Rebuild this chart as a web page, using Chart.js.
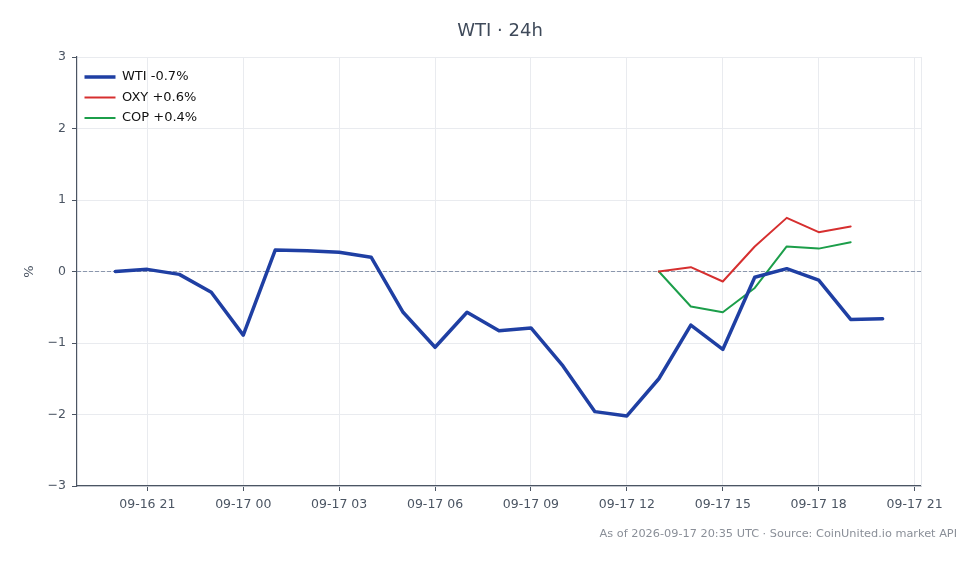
<!DOCTYPE html>
<html>
<head>
<meta charset="utf-8">
<title>WTI · 24h</title>
<script src="https://cdn.jsdelivr.net/npm/chart.js@4.4.1/dist/chart.umd.min.js"></script>
<style>
  html, body { margin: 0; padding: 0; background: #fff; }
  #wrap { width: 980px; height: 564px; position: relative; }
</style>
</head>
<body>
<div id="wrap"><canvas id="chart"></canvas></div>
<script>
// ==================== DATOS ====================
// hourly samples, 09-16 20:00 -> 09-17 20:00 (index = hours since start)
const horas = ['09-16 20','09-16 21','09-16 22','09-16 23','09-17 00','09-17 01','09-17 02','09-17 03',
               '09-17 04','09-17 05','09-17 06','09-17 07','09-17 08','09-17 09','09-17 10','09-17 11',
               '09-17 12','09-17 13','09-17 14','09-17 15','09-17 16','09-17 17','09-17 18','09-17 19','09-17 20'];

const wti = [0.00, 0.03, -0.04, -0.29, -0.89, 0.30, 0.29, 0.27, 0.20, -0.57, -1.06, -0.57, -0.83,
             -0.79, -1.32, -1.96, -2.02, -1.50, -0.75, -1.09, -0.08, 0.04, -0.12, -0.67, -0.66];
const oxy = [null, null, null, null, null, null, null, null, null, null, null, null, null,
             null, null, null, null, 0.00, 0.06, -0.14, 0.35, 0.75, 0.55, 0.63, null];
const cop = [null, null, null, null, null, null, null, null, null, null, null, null, null,
             null, null, null, null, 0.00, -0.49, -0.57, -0.23, 0.35, 0.32, 0.41, null];

const xTickHoras  = [1, 4, 7, 10, 13, 16, 19, 22, 25];
const xTickLabels = ['09-16 21','09-17 00','09-17 03','09-17 06','09-17 09','09-17 12','09-17 15','09-17 18','09-17 21'];
const yTicks = [-3, -2, -1, 0, 1, 2, 3];

const titulo = 'WTI · 24h';
const pie = 'As of 2026-09-17 20:35 UTC · Source: CoinUnited.io market API';

const FONT = 'DejaVu Sans';
const TXT = '#4b5563';
const GRID = '#e9ebef';

const aPuntos = serie => serie.map((v, i) => ({ x: i, y: v }));

// ==================== PLUGIN: textos, línea cero, bordes ====================
const extras = {
    id: 'extras',
    beforeDatasetsDraw(chart) {
        const { ctx, chartArea: a, scales: { y } } = chart;
        const y0 = y.getPixelForValue(0);
        ctx.save();
        ctx.strokeStyle = GRID;
        ctx.lineWidth = 1;
        ctx.beginPath();
        ctx.moveTo(a.right + 0.5, a.top);
        ctx.lineTo(a.right + 0.5, a.bottom);
        ctx.stroke();
        ctx.strokeStyle = '#8b97ad';
        ctx.setLineDash([4, 2]);
        ctx.beginPath();
        ctx.moveTo(a.left, y0);
        ctx.lineTo(a.right, y0);
        ctx.stroke();
        ctx.restore();
    },
    afterDraw(chart) {
        const { ctx, chartArea: a } = chart;
        ctx.save();
        ctx.fillStyle = '#3f4a5a';
        ctx.font = `18px "${FONT}"`;
        ctx.textAlign = 'center';
        ctx.textBaseline = 'middle';
        ctx.fillText(titulo, (a.left + a.right) / 2 + 1, 31);
        ctx.fillStyle = '#8a8f98';
        ctx.font = `11.3px "${FONT}"`;
        ctx.textAlign = 'right';
        ctx.fillText(pie, 957, 534);
        ctx.restore();
    }
};

const ctx = document.getElementById('chart').getContext('2d');
new Chart(ctx, {
    type: 'line',
    data: {
        datasets: [
            { label: 'WTI -0.7%', data: aPuntos(wti), borderColor: '#1f3fa3', backgroundColor: '#1f3fa3', borderWidth: 3.5 },
            { label: 'OXY +0.6%', data: aPuntos(oxy), borderColor: '#d62f2f', backgroundColor: '#d62f2f', borderWidth: 2 },
            { label: 'COP +0.4%', data: aPuntos(cop), borderColor: '#1c9e4a', backgroundColor: '#1c9e4a', borderWidth: 2 }
        ]
    },
    options: {
        responsive: true,
        maintainAspectRatio: false,
        animation: false,
        spanGaps: false,
        elements: { point: { radius: 0, hoverRadius: 0 }, line: { tension: 0, borderJoinStyle: 'round', borderCapStyle: 'round' } },
        layout: { padding: { top: 57, right: 59, left: 0, bottom: 0 } },
        plugins: {
            title: { display: false },
            tooltip: { enabled: false },
            legend: {
                position: 'chartArea',
                align: 'start',
                // the chartArea legend box starts at the canvas top; a blank title pushes the rows down
                title: { display: true, text: ' ', font: { size: 10, lineHeight: 1 }, padding: { top: 53, bottom: 0 } },
                labels: {
                    usePointStyle: true,
                    pointStyle: 'line',
                    pointStyleWidth: 31,
                    padding: 7.5,
                    color: '#111',
                    font: { family: FONT, size: 13 }
                }
            }
        },
        scales: {
            x: {
                type: 'linear',
                min: -1.2,
                max: 25.2,
                afterFit: s => { s.height = 78; },
                afterBuildTicks: s => { s.ticks = xTickHoras.map(v => ({ value: v })); },
                ticks: {
                    color: TXT,
                    font: { family: FONT, size: 12.5 },
                    padding: 6,
                    maxRotation: 0,
                    autoSkip: false,
                    callback: v => xTickLabels[xTickHoras.indexOf(v)]
                },
                grid: { color: GRID, tickColor: TXT, tickLength: 5 },
                border: { color: TXT, width: 1.2 }
            },
            y: {
                min: -3,
                max: 3,
                afterFit: s => { s.width = 77; },
                afterBuildTicks: s => { s.ticks = yTicks.map(v => ({ value: v })); },
                ticks: {
                    color: TXT,
                    font: { family: FONT, size: 12.5 },
                    padding: 6,
                    callback: v => v < 0 ? '\u2212' + Math.abs(v) : String(v)
                },
                title: { display: true, text: '%', color: TXT, font: { family: FONT, size: 13 }, padding: { top: 22, bottom: 0 } },
                grid: { color: GRID, tickColor: TXT, tickLength: 5 },
                border: { color: TXT, width: 1.2 }
            }
        }
    },
    plugins: [extras]
});
</script>
</body>
</html>
